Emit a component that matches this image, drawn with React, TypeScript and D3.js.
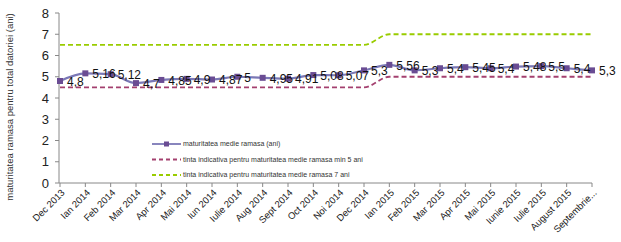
import React from 'react';
import * as d3 from 'd3';

const months = [
  'Dec 2013', 'Ian 2014', 'Feb 2014', 'Mar 2014', 'Apr 2014', 'Mai 2014', 'Iun 2014',
  'Iulie 2014', 'Aug 2014', 'Sept 2014', 'Oct 2014', 'Noi 2014', 'Dec 2014', 'Ian 2015',
  'Feb 2015', 'Mar 2015', 'Apr 2015', 'Mai 2015', 'Iunie 2015', 'Iulie 2015',
  'August 2015', 'Septembrie...',
];

const maturitate = [
  4.8, 5.16, 5.12, 4.7, 4.85, 4.9, 4.87, 5, 4.95, 4.91, 5.08, 5.07, 5.3, 5.56,
  5.3, 5.4, 5.45, 5.4, 5.48, 5.5, 5.4, 5.3,
];

const tintaMin5 = [
  4.5, 4.5, 4.5, 4.5, 4.5, 4.5, 4.5, 4.5, 4.5, 4.5, 4.5, 4.5, 4.5, 5,
  5, 5, 5, 5, 5, 5, 5, 5,
];

const tinta7 = [
  6.5, 6.5, 6.5, 6.5, 6.5, 6.5, 6.5, 6.5, 6.5, 6.5, 6.5, 6.5, 6.5, 7,
  7, 7, 7, 7, 7, 7, 7, 7,
];

const yTicks = [0, 1, 2, 3, 4, 5, 6, 7, 8];

const legendItems = [
  { label: 'maturitatea medie ramasa  (ani)', color: '#7b78b6', dash: null, marker: true },
  { label: 'tinta indicativa pentru maturitatea medie ramasa min 5 ani', color: '#a4406f', dash: '4,3', marker: false },
  { label: 'tinta indicativa pentru maturitatea medie ramasa  7 ani', color: '#99cc00', dash: '4,3', marker: false },
];

const W = 621;
const H = 242;
const margin = { top: 13, right: 29, bottom: 59, left: 59 };

export default function App() {
  const x = d3.scalePoint<string>()
    .domain(months)
    .range([margin.left + 1, W - margin.right]);
  const y = d3.scaleLinear().domain([0, 8]).range([H - margin.bottom, margin.top]);

  // Excel-style smoothed lines
  const line = d3.line<number>()
    .x((_, i) => x(months[i]) as number)
    .y((d) => y(d))
    .curve(d3.curveMonotoneX);

  const font = 'Arial, "Liberation Sans", sans-serif';

  return (
    <svg width={W} height={H} style={{ position: 'absolute', left: 0, top: 0, background: '#fff' }} fontFamily={font}>
      {/* axes */}
      <line x1={margin.left} x2={margin.left} y1={y(8)} y2={y(0)} stroke="#888" />
      <line x1={margin.left} x2={W - margin.right} y1={y(0)} y2={y(0)} stroke="#888" />
      {yTicks.map((t) => (
        <g key={t}>
          <line x1={margin.left - 4} x2={margin.left} y1={y(t)} y2={y(t)} stroke="#888" />
          <text x={margin.left - 10} y={y(t)} dy="0.35em" textAnchor="end" fontSize={13} fill="#222">{t}</text>
        </g>
      ))}
      {months.map((m) => (
        <g key={m}>
          <line x1={x(m)} x2={x(m)} y1={y(0)} y2={y(0) + 4} stroke="#888" />
          <text
            transform={`translate(${(x(m) as number) + 3},${y(0) + 8}) rotate(-45)`}
            textAnchor="end"
            dy="0.35em"
            fontSize={9.5}
            fill="#222"
          >{m}</text>
        </g>
      ))}

      {/* y title */}
      <text
        transform={`translate(13,${(margin.top + H - margin.bottom) / 2 + 9}) rotate(-90)`}
        textAnchor="middle"
        fontSize={9.5}
        fill="#333"
      >maturitatea ramasa pentru total datoriei  (ani)</text>

      {/* series */}
      <path d={line(tinta7) ?? ''} fill="none" stroke="#99cc00" strokeWidth={1.8} strokeDasharray="5,3" />
      <path d={line(tintaMin5) ?? ''} fill="none" stroke="#a4406f" strokeWidth={1.8} strokeDasharray="5,3" />
      <path d={line(maturitate) ?? ''} fill="none" stroke="#7b78b6" strokeWidth={2.2} />
      {maturitate.map((v, i) => (
        <rect key={i} x={(x(months[i]) as number) - 3} y={y(v) - 3} width={6} height={6} fill="#6a4c93" />
      ))}
      {maturitate.map((v, i) => (
        <text key={'l' + i} x={(x(months[i]) as number) + 7} y={y(v)} dy="0.4em" fontSize={12} fill="#111">
          {String(v).replace('.', ',')}
        </text>
      ))}

      {/* legend */}
      {legendItems.map((it, i) => {
        const ly = 144 + i * 15.5;
        return (
          <g key={it.label}>
            <line x1={152} x2={181} y1={ly} y2={ly} stroke={it.color} strokeWidth={1.8} strokeDasharray={it.dash ?? undefined} />
            {it.marker && <rect x={164} y={ly - 2.5} width={5} height={5} fill="#6a4c93" />}
            <text x={183} y={ly} dy="0.35em" fontSize={7} fill="#333">{it.label}</text>
          </g>
        );
      })}
    </svg>
  );
}
